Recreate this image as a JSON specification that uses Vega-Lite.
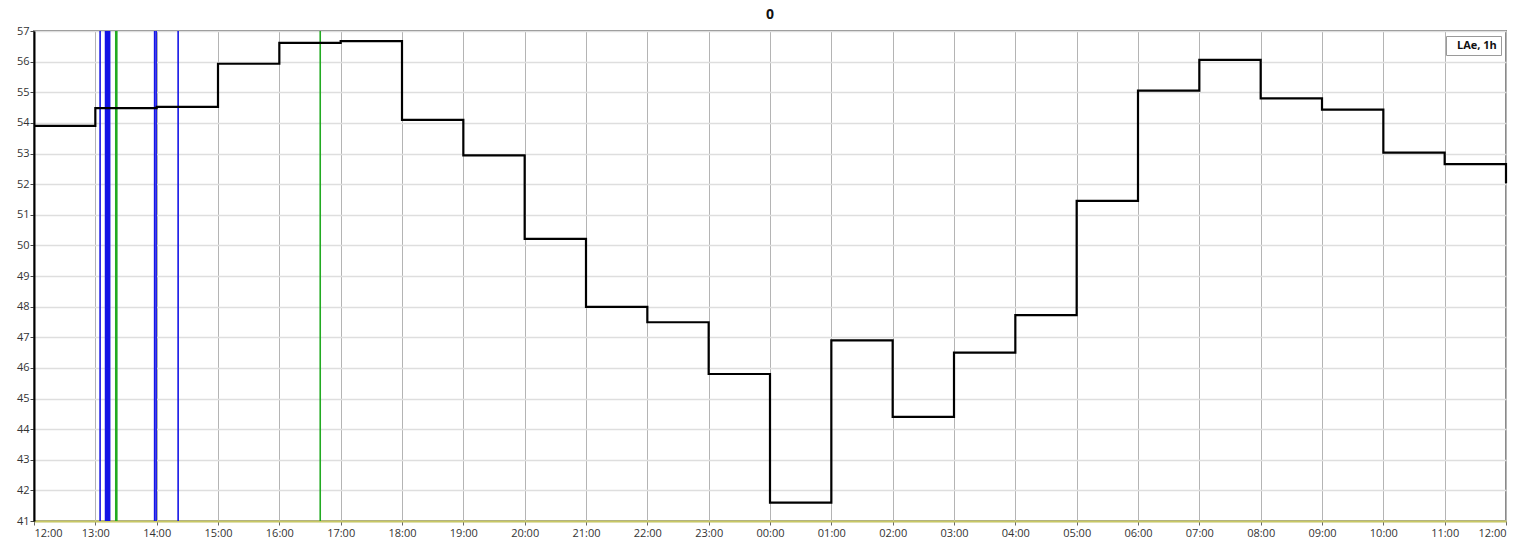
{
  "$schema": "https://vega.github.io/schema/vega-lite/v6.json",
  "autosize": "none",
  "width": 1472,
  "height": 490,
  "padding": {"left": 34, "top": 31, "right": 18, "bottom": 26},
  "background": "white",
  "title": {"text": "0", "fontSize": 14, "fontWeight": "bold", "font": "Open Sans", "color": "#111", "offset": 3, "anchor": "middle"},
  "config": {
    "font": "Open Sans",
    "view": {"stroke": "#8a8a8a", "strokeWidth": 2},
    "legend": {
      "orient": "top-right", "offset": 5, "strokeColor": "#9a9a9a", "fillColor": "white",
      "padding": 4, "symbolOpacity": 0, "symbolSize": 1, "symbolStrokeWidth": 0,
      "labelFontWeight": "bold", "labelFontSize": 11, "labelColor": "#111", "labelOffset": -4
    }
  },
  "datasets": {
    "leq": [
      {"t": "2024-01-01T12:00:00Z", "v": 53.9, "s": "LAe, 1h"},
      {"t": "2024-01-01T13:00:00Z", "v": 54.48, "s": "LAe, 1h"},
      {"t": "2024-01-01T14:00:00Z", "v": 54.52, "s": "LAe, 1h"},
      {"t": "2024-01-01T15:00:00Z", "v": 55.93, "s": "LAe, 1h"},
      {"t": "2024-01-01T16:00:00Z", "v": 56.61, "s": "LAe, 1h"},
      {"t": "2024-01-01T17:00:00Z", "v": 56.67, "s": "LAe, 1h"},
      {"t": "2024-01-01T18:00:00Z", "v": 54.1, "s": "LAe, 1h"},
      {"t": "2024-01-01T19:00:00Z", "v": 52.94, "s": "LAe, 1h"},
      {"t": "2024-01-01T20:00:00Z", "v": 50.21, "s": "LAe, 1h"},
      {"t": "2024-01-01T21:00:00Z", "v": 47.99, "s": "LAe, 1h"},
      {"t": "2024-01-01T22:00:00Z", "v": 47.49, "s": "LAe, 1h"},
      {"t": "2024-01-01T23:00:00Z", "v": 45.8, "s": "LAe, 1h"},
      {"t": "2024-01-02T00:00:00Z", "v": 41.6, "s": "LAe, 1h"},
      {"t": "2024-01-02T01:00:00Z", "v": 46.9, "s": "LAe, 1h"},
      {"t": "2024-01-02T02:00:00Z", "v": 44.4, "s": "LAe, 1h"},
      {"t": "2024-01-02T03:00:00Z", "v": 46.5, "s": "LAe, 1h"},
      {"t": "2024-01-02T04:00:00Z", "v": 47.72, "s": "LAe, 1h"},
      {"t": "2024-01-02T05:00:00Z", "v": 51.45, "s": "LAe, 1h"},
      {"t": "2024-01-02T06:00:00Z", "v": 55.05, "s": "LAe, 1h"},
      {"t": "2024-01-02T07:00:00Z", "v": 56.06, "s": "LAe, 1h"},
      {"t": "2024-01-02T08:00:00Z", "v": 54.8, "s": "LAe, 1h"},
      {"t": "2024-01-02T09:00:00Z", "v": 54.43, "s": "LAe, 1h"},
      {"t": "2024-01-02T10:00:00Z", "v": 53.03, "s": "LAe, 1h"},
      {"t": "2024-01-02T11:00:00Z", "v": 52.65, "s": "LAe, 1h"},
      {"t": "2024-01-02T12:00:00Z", "v": 52.03, "s": "LAe, 1h"}
    ],
    "events": [
      {"t": "2024-01-01T13:04:40Z", "kind": "blue"},
      {"t": "2024-01-01T13:10:00Z", "kind": "blue"},
      {"t": "2024-01-01T13:11:00Z", "kind": "blue"},
      {"t": "2024-01-01T13:12:00Z", "kind": "blue"},
      {"t": "2024-01-01T13:13:00Z", "kind": "blue"},
      {"t": "2024-01-01T13:14:00Z", "kind": "blue"},
      {"t": "2024-01-01T13:20:00Z", "kind": "green"},
      {"t": "2024-01-01T13:21:00Z", "kind": "green"},
      {"t": "2024-01-01T13:58:00Z", "kind": "blue"},
      {"t": "2024-01-01T13:59:30Z", "kind": "blue"},
      {"t": "2024-01-01T14:21:00Z", "kind": "blue"},
      {"t": "2024-01-01T16:40:00Z", "kind": "green"}
    ]
  },
  "encoding": {
    "x": {
      "field": "t", "type": "temporal",
      "scale": {"type": "utc", "domain": [1704110400000, 1704196800000], "nice": false},
      "axis": {
        "title": null, "format": "%H:%M", "tickCount": 24,
        "grid": true, "gridColor": "#b4b4b4", "gridWidth": 1,
        "domainColor": "#c8c864", "domainWidth": 2,
        "tickColor": "#666", "tickSize": 4, "labelFontSize": 11, "labelColor": "#333",
        "labelPadding": 2
      }
    }
  },
  "layer": [
    {
      "data": {"name": "events"},
      "mark": {"type": "rule", "strokeWidth": 1.6},
      "encoding": {
        "stroke": {
          "field": "kind", "type": "nominal",
          "scale": {"domain": ["blue", "green"], "range": ["#1414e6", "#22aa22"]},
          "legend": null
        }
      }
    },
    {
      "data": {"name": "leq"},
      "mark": {"type": "line", "interpolate": "step-after", "strokeWidth": 2.2},
      "encoding": {
        "y": {
          "field": "v", "type": "quantitative",
          "scale": {"domain": [41, 57], "nice": false, "zero": false},
          "axis": {
            "title": null, "values": [41,42,43,44,45,46,47,48,49,50,51,52,53,54,55,56,57],
            "grid": true, "gridColor": "#dedede", "gridWidth": 1.5,
            "domainColor": "#000", "domainWidth": 2,
            "tickColor": "#444", "tickSize": 4, "labelFontSize": 11, "labelColor": "#333",
            "labelPadding": 1
          }
        },
        "color": {
          "field": "s", "type": "nominal",
          "scale": {"domain": ["LAe, 1h"], "range": ["#000000"]},
          "legend": {"title": null}
        }
      }
    }
  ]
}
